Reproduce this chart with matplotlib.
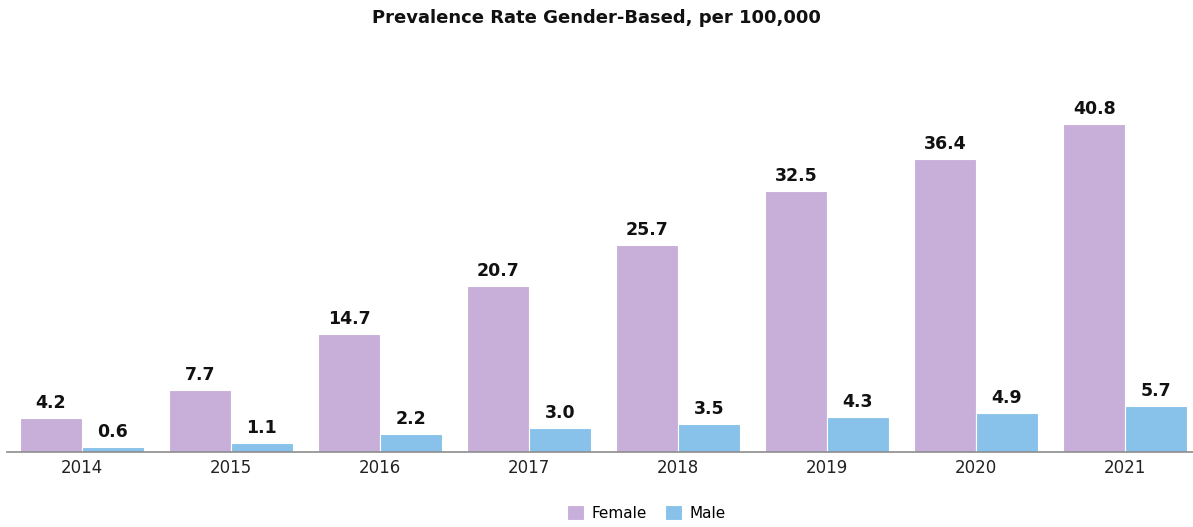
import numpy as np
import matplotlib.pyplot as plt

years = ['2014', '2015', '2016', '2017', '2018', '2019', '2020', '2021']
female = [4.2, 7.7, 14.7, 20.7, 25.7, 32.5, 36.4, 40.8]
male = [0.6, 1.1, 2.2, 3.0, 3.5, 4.3, 4.9, 5.7]

c_f = '#C8AFDA'
c_m = '#88C2EA'

fig = plt.figure(figsize=(11.93, 5.27), dpi=100)
ax = fig.add_axes([0.006, 0.1423, 0.994, 0.668])

x = np.arange(len(years))
w = 0.415
b1 = ax.bar(x - w/2, female, w, color=c_f, edgecolor='white', linewidth=0.8, label='Female')
b2 = ax.bar(x + w/2, male, w, color=c_m, edgecolor='white', linewidth=0.8, label='Male')

for bars, vals in ((b1, female), (b2, male)):
	for r, v in zip(bars, vals):
		ax.text(r.get_x() + r.get_width()/2, v + 0.75, f'{v:.1f}', ha='center', va='bottom',
				fontsize=12.5, fontweight='bold', color='#111111')

ax.set_xlim(-0.5, 7.455)
ax.set_ylim(0, 43.8)
ax.set_xticks(x)
ax.set_xticklabels(years, fontsize=12, color='#222222')
ax.tick_params(axis='x', length=0, pad=5)
ax.set_yticks([])
for s in ['top', 'right', 'left']:
	ax.spines[s].set_visible(False)
ax.spines['bottom'].set_color('#8c8c8c')
ax.spines['bottom'].set_linewidth(1.2)

fig.text(0.5, 0.965, 'Prevalence Rate Gender-Based, per 100,000', ha='center', va='center',
		 fontsize=13, fontweight='bold', color='#111111')

fig.legend(handles=[b1, b2], loc='center', bbox_to_anchor=(0.542, 0.027), ncol=2, frameon=False,
		   fontsize=11, handlelength=1.1, handleheight=1.1, columnspacing=1.2, handletextpad=0.5)

plt.savefig('out.png', dpi=100)
